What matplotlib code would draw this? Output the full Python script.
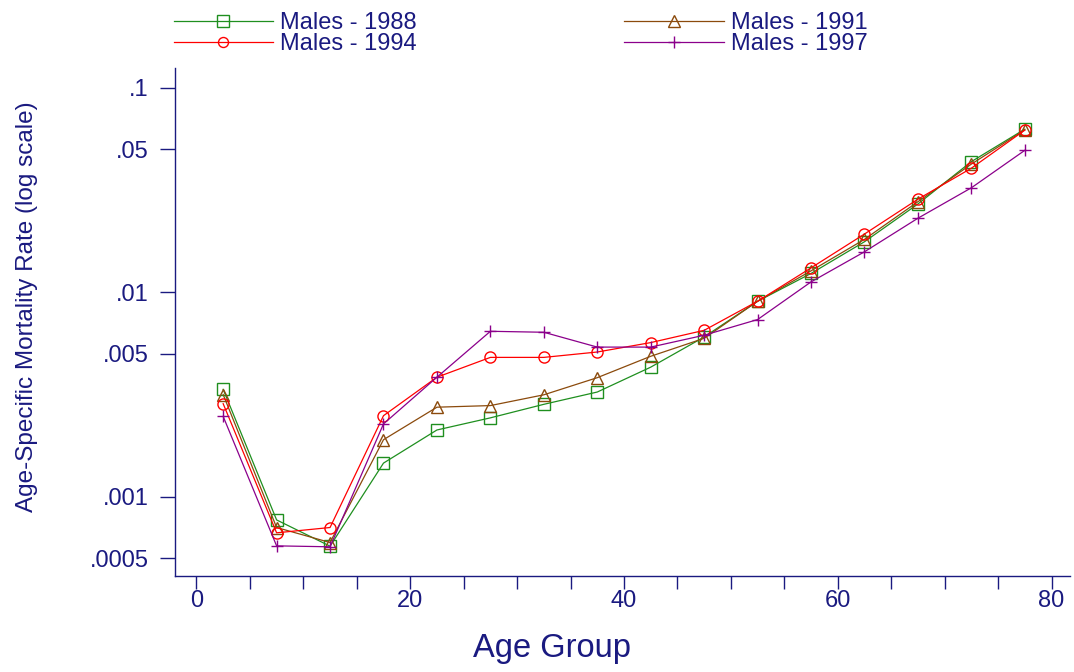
import matplotlib
matplotlib.use("Agg")
import matplotlib.pyplot as plt
from matplotlib.ticker import MultipleLocator, FixedLocator, NullFormatter

plt.rcParams['font.family'] = ['Liberation Sans', 'DejaVu Sans']

# age group midpoints
age = [2.5, 7.5, 12.5, 17.5, 22.5, 27.5, 32.5, 37.5, 42.5, 47.5, 52.5, 57.5, 62.5, 67.5, 72.5, 77.5]

males_1988 = [0.00335, 0.00077, 0.000573, 0.00146, 0.00212, 0.00243, 0.00283, 0.00325,
              0.0043, 0.00604, 0.00903, 0.01235, 0.01765, 0.0270, 0.0435, 0.0627]
males_1991 = [0.00316, 0.000707, 0.000597, 0.0019, 0.00274, 0.00279, 0.00315, 0.00382,
              0.00486, 0.00595, 0.00903, 0.01272, 0.01813, 0.0277, 0.0423, 0.0622]
males_1994 = [0.00285, 0.000666, 0.000707, 0.00249, 0.00384, 0.0048, 0.0048, 0.0051,
              0.00567, 0.00651, 0.00903, 0.01315, 0.01925, 0.0285, 0.0404, 0.0620]
males_1997 = [0.00247, 0.000575, 0.000569, 0.00227, 0.00384, 0.00644, 0.00637, 0.00539,
              0.00539, 0.00616, 0.00735, 0.01123, 0.01576, 0.0230, 0.0324, 0.0494]

ytick_vals = [0.0005, 0.001, 0.005, 0.01, 0.05, 0.1]
ytick_labels = ['.0005', '.001', '.005', '.01', '.05', '.1']

navy = '#1a1a80'

fig = plt.figure(figsize=(10.74, 6.72), dpi=100)
ax = fig.add_axes([0.163, 0.143, 0.833, 0.756])

l1, = ax.plot(age, males_1988, color='#1f8f1f', lw=0.9, marker='s', ms=9, mfc='none', mew=1.0)
l2, = ax.plot(age, males_1991, color='#8b4a0c', lw=0.9, marker='^', ms=9, mfc='none', mew=1.0)
l3, = ax.plot(age, males_1994, color='#ff0000', lw=0.9, marker='o', ms=8, mfc='none', mew=1.0)
l4, = ax.plot(age, males_1997, color='#8b008b', lw=0.9, marker='+', ms=9, mew=1.0)

ax.set_yscale('log')
ax.set_ylim(0.00041, 0.125)
ax.set_xlim(-2, 81.7)
ax.yaxis.set_major_locator(FixedLocator(ytick_vals))
ax.set_yticklabels(ytick_labels)
ax.yaxis.set_minor_formatter(NullFormatter())
ax.yaxis.set_minor_locator(FixedLocator([]))
ax.xaxis.set_major_locator(MultipleLocator(20))
ax.xaxis.set_minor_locator(MultipleLocator(5))

for s in ['top', 'right']:
    ax.spines[s].set_visible(False)
for s in ['left', 'bottom']:
    ax.spines[s].set_color(navy)
    ax.spines[s].set_linewidth(1.0)

ax.tick_params(axis='both', which='both', direction='out', width=1.0,
               color=navy, labelcolor=navy, labelsize=17)
ax.tick_params(axis='x', which='both', length=9.5, pad=1)
ax.tick_params(axis='y', which='both', length=11, pad=8)

ax.set_xlabel('Age Group', fontsize=23.5, color=navy)
ax.xaxis.set_label_coords(0.421, -0.113)
ax.set_ylabel('Age-Specific Mortality Rate (log scale)', fontsize=17.5, color=navy)
ax.yaxis.set_label_coords(-0.153, 0.529)

fig.legend([l1, l3, l2, l4], ['Males - 1988', 'Males - 1994', 'Males - 1991', 'Males - 1997'],
           ncol=2, loc='upper left', bbox_to_anchor=(0.142, 1.014), frameon=False,
           fontsize=17, handlelength=4.2, handletextpad=0.3, columnspacing=8.8,
           labelspacing=-0.02, labelcolor=navy, markerscale=0.9)

fig.savefig('out.png', dpi=100)
